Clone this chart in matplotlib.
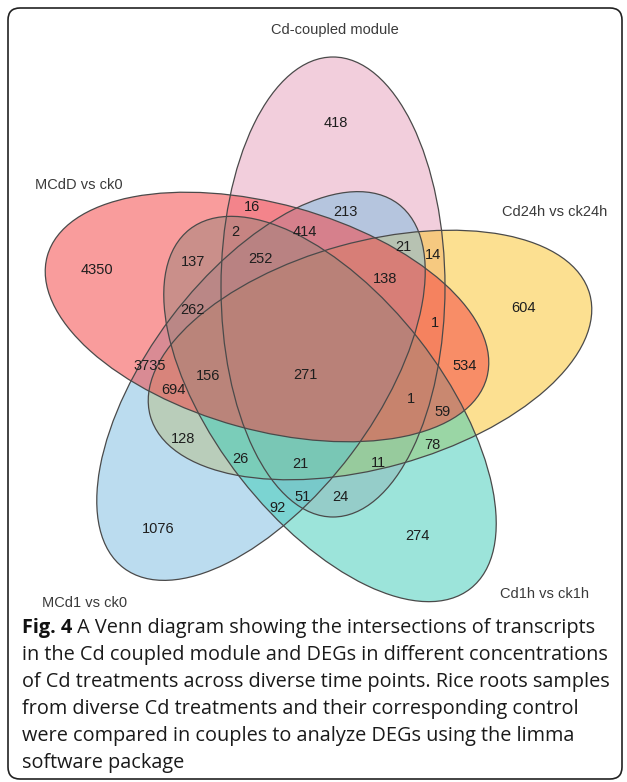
import matplotlib
matplotlib.use("Agg")
import matplotlib.pyplot as plt
from matplotlib.patches import Ellipse, FancyBboxPatch

# set names and their fill colours (drawn with alpha 0.5)
set_names = ["Cd-coupled module", "MCdD vs ck0", "Cd24h vs ck24h", "MCd1 vs ck0", "Cd1h vs ck1h"]
set_colors = ["#e7a1bd", "#f54141", "#fbc52d", "#7dbde1", "#41cdb9"]

# region counts
region_counts = [418, 16, 2, 213, 414, 137, 252, 21, 14, 138,
                 4350, 604, 262, 1, 271, 3735, 534, 156, 694, 1,
                 59, 128, 78, 26, 21, 11, 51, 24, 92, 1076, 274]

# where each count sits (pixels, y down)
region_xy = [(336, 123), (252, 207), (235, 232), (345, 212), (305, 232),
             (193, 262), (260, 259), (403, 247), (433, 255), (385, 279),
             (97, 270), (523, 308), (192, 310), (435, 323), (305, 375),
             (150, 366), (465, 366), (208, 376), (173, 390), (411, 399),
             (443, 412), (183, 439), (432, 445), (240, 459), (300, 464),
             (378, 463), (303, 497), (340, 497), (277, 508), (158, 529),
             (417, 536)]

# ellipse layout: centre x, centre y, semi-major, semi-minor, angle (image coords)
ellipses = {
    "Cd-coupled module": (333, 287, 230, 112, 90),
    "MCdD vs ck0": (267, 317, 228, 113, 15.5),
    "Cd24h vs ck24h": (370, 355, 228, 113, -15.5),
    "MCd1 vs ck0": (261, 386, 228, 113, -53),
    "Cd1h vs ck1h": (330, 409, 228, 113, 52),
}
label_pos = {
    "Cd-coupled module": (335, 30, "center"),
    "MCdD vs ck0": (35, 185, "left"),
    "Cd24h vs ck24h": (502, 212, "left"),
    "MCd1 vs ck0": (42, 603, "left"),
    "Cd1h vs ck1h": (500, 594, "left"),
}
draw_order = ["Cd-coupled module", "Cd24h vs ck24h", "MCd1 vs ck0", "Cd1h vs ck1h", "MCdD vs ck0"]

caption_bold = "Fig. 4"
caption_lines = [
    " A Venn diagram showing the intersections of transcripts",
    "in the Cd coupled module and DEGs in different concentrations",
    "of Cd treatments across diverse time points. Rice roots samples",
    "from diverse Cd treatments and their corresponding control",
    "were compared in couples to analyze DEGs using the limma",
    "software package",
]

fig = plt.figure(figsize=(6.27, 7.82), dpi=100)
ax = fig.add_axes([0, 0, 1, 1])
ax.set_xlim(0, 627)
ax.set_ylim(782, 0)
ax.axis("off")

# frame round the figure
ax.add_patch(FancyBboxPatch((8, 8), 614, 771, boxstyle="round,pad=0,rounding_size=12",
                            fill=False, ec="#222222", lw=1.2))

colors = dict(zip(set_names, set_colors))
for name in draw_order:
    cx, cy, a, b, ang = ellipses[name]
    ax.add_patch(Ellipse((cx, cy), 2 * a, 2 * b, angle=ang, fc=colors[name],
                         alpha=0.52, ec="none"))
for name in draw_order:
    cx, cy, a, b, ang = ellipses[name]
    ax.add_patch(Ellipse((cx, cy), 2 * a, 2 * b, angle=ang, fill=False,
                         ec="#4a4a4a", lw=0.9))

for n, (x, y) in zip(region_counts, region_xy):
    ax.text(x, y, str(n), ha="center", va="center", fontsize=10.5,
            family="Liberation Sans", color="#1e1e1e")

for name in set_names:
    x, y, ha = label_pos[name]
    ax.text(x, y, name, ha=ha, va="center", fontsize=10.5, family="Liberation Sans",
            color="#3a3a3a")

# caption
r = fig.canvas.get_renderer()
y0 = 628
t = ax.text(22, y0, caption_bold, ha="left", va="center", fontsize=14.3,
            family="Open Sans", weight="bold", color="#111111")
w = t.get_window_extent(renderer=r).width
for i, line in enumerate(caption_lines):
    x = 22 + w if i == 0 else 22
    ax.text(x, y0 + 27 * i, line, ha="left", va="center", fontsize=14.3,
            family="Open Sans", color="#1a1a1a")

fig.savefig("out.png", dpi=100)
